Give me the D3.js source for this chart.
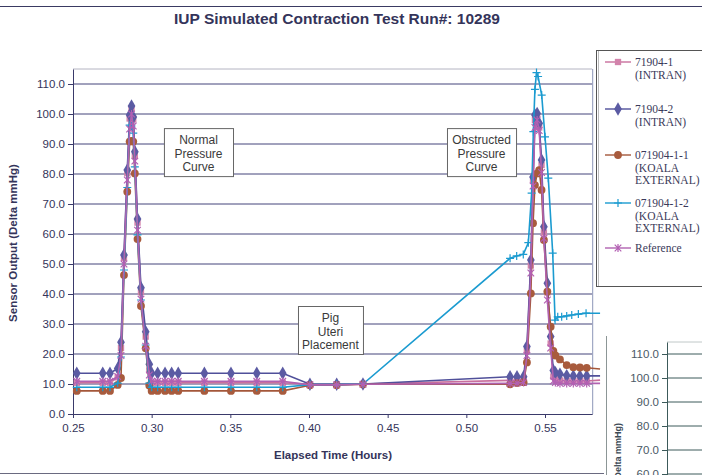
<!DOCTYPE html>
<html>
<head>
<meta charset="utf-8">
<script src="https://cdn.jsdelivr.net/npm/d3@7"></script>
<style>
  body { margin: 0; background: #fff; }
  svg { display: block; }
</style>
</head>
<body>
<div id="chart"></div>
<script>
// values (elapsed hours / delta mmHg)
const seriesNames = ['71904-1 (INTRAN)', '71904-2 (INTRAN)', '071904-1-1 (KOALA EXTERNAL)', '071904-1-2 (KOALA EXTERNAL)', 'Reference'];
const legendLines = [['71904-1', '(INTRAN)'], ['71904-2', '(INTRAN)'], ['071904-1-1', '(KOALA', 'EXTERNAL)'], ['071904-1-2', '(KOALA', 'EXTERNAL)'], ['Reference']];

// first run, shared sample times
const timesA = [0.2524, 0.2689, 0.2735, 0.2784, 0.2805, 0.2824, 0.2845, 0.2860, 0.2872, 0.2883, 0.2893, 0.2910, 0.2932, 0.2962, 0.2985, 0.3000, 0.3038, 0.3085, 0.3127, 0.3169, 0.3335, 0.3504, 0.3668, 0.3833, 0.4006, 0.4176, 0.4343];
// second run
const timesB = [0.5278, 0.5322, 0.5364, 0.5385, 0.5410, 0.5424, 0.5436, 0.5450, 0.5463, 0.5478, 0.5493, 0.5515, 0.5536, 0.5553, 0.5566, 0.5595, 0.5638, 0.5680, 0.5722, 0.5765];
const timesKoala2B = [0.5278, 0.5320, 0.5362, 0.5394, 0.5415, 0.5426, 0.5436, 0.5446, 0.5456, 0.5479, 0.5500, 0.5521, 0.5549, 0.5564, 0.5581, 0.5606, 0.5638, 0.5670, 0.5712, 0.5761];
const timeEnd = 0.585; // lines run on a little past the plot edge

const intran1A = [10.4, 10.4, 10.4, 12.2, 22.0, 52.0, 80.3, 98.5, 101.8, 98.2, 86.0, 63.8, 40.6, 25.8, 14.5, 10.4, 10.4, 10.4, 10.4, 10.4, 10.4, 10.4, 10.4, 10.4, 9.9, 9.9, 10.0];
const intran2A = [13.6, 13.6, 13.6, 15.2, 23.9, 53.0, 81.3, 99.7, 102.7, 99.0, 87.4, 65.0, 42.1, 27.4, 16.6, 13.6, 13.6, 13.6, 13.6, 13.6, 13.6, 13.6, 13.6, 13.6, 9.9, 9.9, 10.0];
const koala1A = [7.7, 7.7, 7.7, 9.7, 12.0, 46.3, 74.1, 90.8, 91.0, 90.8, 80.2, 58.3, 36.0, 21.9, 9.5, 7.7, 7.7, 7.7, 7.7, 7.7, 7.7, 7.7, 7.7, 7.7, 9.6, 9.6, 9.9];
const koala2A = [8.9, 8.9, 8.9, 10.3, 19.0, 48.0, 75.5, 96.3, 96.0, 93.6, 82.4, 59.7, 38.0, 23.0, 10.3, 8.9, 8.9, 8.9, 8.9, 8.9, 8.9, 8.9, 8.9, 8.9, 9.8, 9.8, 10.0];
const referenceA = [10.9, 10.9, 10.9, 12.5, 19.5, 50.0, 78.0, 95.0, 100.0, 96.0, 84.3, 61.3, 38.3, 22.6, 13.0, 10.9, 10.9, 10.9, 10.9, 10.9, 10.9, 10.9, 10.9, 10.9, 9.7, 9.7, 9.9];

const intran1B = [11.2, 11.2, 11.4, 21.0, 49.5, 78.0, 98.0, 99.5, 95.5, 83.0, 60.5, 40.5, 23.5, 12.5, 12.0, 11.2, 11.0, 11.0, 11.0, 11.0];
const intran2B = [12.4, 12.4, 12.4, 22.5, 51.3, 79.0, 99.7, 100.2, 96.9, 84.7, 62.4, 43.6, 25.8, 14.5, 13.8, 13.3, 12.8, 12.7, 12.7, 12.7];
const koala1B = [9.9, 10.3, 10.6, 17.2, 40.2, 63.6, 76.3, 80.2, 81.3, 74.7, 58.0, 40.8, 29.1, 21.0, 19.5, 18.2, 16.3, 15.6, 15.5, 15.4];
const koala2B = [51.9, 52.7, 53.2, 57.1, 73.6, 94.1, 108.2, 113.8, 112.5, 106.3, 92.4, 78.6, 53.6, 31.3, 32.4, 32.4, 32.7, 33.0, 33.3, 33.6];
const referenceB = [10.2, 10.3, 10.5, 19.5, 47.0, 76.0, 95.5, 98.0, 94.5, 80.5, 58.5, 38.0, 22.0, 11.0, 10.5, 10.2, 10.2, 10.2, 10.2, 10.2];

const endValues = [11.3, 12.7, 15.0, 33.6, 10.2];

const yTicks = [0, 10, 20, 30, 40, 50, 60, 70, 80, 90, 100, 110];
const xTicks = [0.25, 0.30, 0.35, 0.40, 0.45, 0.50, 0.55];
const insetTicks = [60, 70, 80, 90, 100, 110];

const notes = [
  { lines: ['Normal', 'Pressure', 'Curve'], t0: 0.3078, t1: 0.3517, v0: 95.3, v1: 79.3 },
  { lines: ['Obstructed', 'Pressure', 'Curve'], t0: 0.4877, t1: 0.5316, v0: 95.3, v1: 79.3 },
  { lines: ['Pig', 'Uteri', 'Placement'], t0: 0.3930, t1: 0.4343, v0: 36.0, v1: 20.0 }
];

const width = 702, height = 475;
const sans = '"Liberation Sans", Arial, sans-serif';
const serif = '"Liberation Serif", "Times New Roman", serif';
const svg = d3.select('#chart').append('svg').attr('width', width).attr('height', height)
  .style('font-family', sans);

const x = d3.scaleLinear().domain([0.25, 0.58]).range([73, 592.2]);
const y = d3.scaleLinear().domain([0, 115]).range([414, 69]);

const ink = '#34345a';

// outer frame lines
svg.append('line').attr('x1', 0).attr('x2', width).attr('y1', 6.5).attr('y2', 6.5).attr('stroke', '#3a3a62');
svg.append('line').attr('x1', 0).attr('x2', 604).attr('y1', 473.5).attr('y2', 473.5).attr('stroke', '#6a6a80');

svg.append('text').attr('x', 337).attr('y', 24).attr('text-anchor', 'middle')
  .attr('font-size', 15.5).attr('font-weight', 'bold').attr('fill', ink)
  .text('IUP Simulated Contraction Test Run#: 10289');

// gridlines
svg.append('g').selectAll('line').data(yTicks.filter(d => d > 0)).enter().append('line')
  .attr('x1', x(0.25)).attr('x2', x(0.58)).attr('y1', d => y(d)).attr('y2', d => y(d))
  .attr('stroke', '#45457a').attr('stroke-width', 1);
svg.append('line').attr('x1', x(0.25)).attr('x2', x(0.58)).attr('y1', y(115)).attr('y2', y(115))
  .attr('stroke', '#b4b4c2');
svg.append('line').attr('x1', x(0.58) + 0.5).attr('x2', x(0.58) + 0.5).attr('y1', y(115)).attr('y2', y(0))
  .attr('stroke', '#8d97b8');

// axes
const yAxis = d3.axisLeft(y).tickValues(yTicks).tickFormat(d3.format('.1f')).tickSize(5).tickSizeOuter(0);
const gy = svg.append('g').attr('transform', `translate(${x(0.25)},0)`).call(yAxis);
const xAxis = d3.axisBottom(x).tickValues(xTicks).tickFormat(d3.format('.2f')).tickSize(4).tickSizeOuter(0);
const gx = svg.append('g').attr('transform', `translate(0,${y(0)})`).call(xAxis);
[gx, gy].forEach(g => {
  g.select('.domain').attr('stroke', '#3a3a6a');
  g.selectAll('.tick line').attr('stroke', '#3a3a6a');
  g.selectAll('.tick text').attr('fill', ink).attr('font-size', 11.5).attr('font-family', sans);
});
gy.selectAll('.tick text').attr('x', -8);
gx.selectAll('.tick text').attr('y', 10);

svg.append('text').attr('transform', `translate(17,${y(57)}) rotate(-90)`).attr('text-anchor', 'middle')
  .attr('font-size', 11.5).attr('font-weight', 'bold').attr('fill', ink)
  .text('Sensor Output (Delta mmHg)');
svg.append('text').attr('x', 333).attr('y', 459).attr('text-anchor', 'middle')
  .attr('font-size', 11.5).attr('font-weight', 'bold').attr('fill', ink)
  .text('Elapsed Time (Hours)');

// annotation boxes
notes.forEach(n => {
  const g = svg.append('g');
  g.append('rect').attr('x', x(n.t0) + 0.5).attr('y', y(n.v0) + 0.5)
    .attr('width', x(n.t1) - x(n.t0)).attr('height', y(n.v1) - y(n.v0))
    .attr('fill', '#fff').attr('stroke', '#666');
  const cx = (x(n.t0) + x(n.t1)) / 2;
  n.lines.forEach((s, i) => {
    g.append('text').attr('x', cx).attr('y', y(n.v0) + 16 + i * 13.6).attr('text-anchor', 'middle')
      .attr('font-size', 12).attr('fill', '#3a3a3a').text(s);
  });
});

// series
const plus = 'M-4,0H4M0,-4V4';
const star = 'M-3.3,-3.3L3.3,3.3M-3.3,3.3L3.3,-3.3M0,-4V4';
const styles = [
  { line: '#c96f9d', fill: '#d283ab', shape: d3.symbol(d3.symbolSquare, 40)() },
  { line: '#50509a', fill: '#5b5ba3', shape: d3.symbol(d3.symbolDiamond, 52)() },
  { line: '#a4573a', fill: '#a85b3d', shape: d3.symbol(d3.symbolCircle, 48)() },
  { line: '#1b9bd0', fill: 'none', stroke: '#1b9bd0', shape: plus },
  { line: '#b062b0', fill: 'none', stroke: '#b35fb3', shape: star }
];

const zip = (ts, vs) => ts.map((t, i) => ({ t, v: vs[i] }));
const seriesData = [
  zip(timesA, intran1A).concat(zip(timesB, intran1B)),
  zip(timesA, intran2A).concat(zip(timesB, intran2B)),
  zip(timesA, koala1A).concat(zip(timesB, koala1B)),
  zip(timesA, koala2A).concat(zip(timesKoala2B, koala2B)),
  zip(timesA, referenceA).concat(zip(timesB, referenceB))
].map((pts, i) => pts.concat([{ t: timeEnd, v: endValues[i] }]));

const line = d3.line().x(d => x(d.t)).y(d => y(d.v));

seriesData.forEach((pts, i) => {
  const st = styles[i];
  svg.append('path').datum(pts).attr('d', line).attr('fill', 'none')
    .attr('stroke', st.line).attr('stroke-width', 1.6);
  svg.append('g').selectAll('path').data(pts.filter(d => d.t <= 0.58)).enter().append('path')
    .attr('transform', d => `translate(${x(d.t)},${y(d.v)})`)
    .attr('d', st.shape)
    .attr('fill', st.fill)
    .attr('stroke', st.stroke || 'none').attr('stroke-width', 1.2);
});

// legend
const lg = svg.append('g');
lg.append('rect').attr('x', 596.5).attr('y', 50.5).attr('width', 130).attr('height', 236)
  .attr('fill', '#fff').attr('stroke', '#555');
lg.append('line').attr('x1', 598.5).attr('x2', 598.5).attr('y1', 51).attr('y2', 286).attr('stroke', '#bbb');
const legendY = [62, 109, 155, 203, 248];
legendLines.forEach((ls, i) => {
  const st = styles[i];
  const ly = legendY[i];
  lg.append('line').attr('x1', 605).attr('x2', 631).attr('y1', ly).attr('y2', ly)
    .attr('stroke', st.line).attr('stroke-width', 1.4);
  lg.append('path').attr('transform', `translate(618,${ly})`).attr('d', st.shape)
    .attr('fill', st.fill).attr('stroke', st.stroke || 'none').attr('stroke-width', 1.2);
  ls.forEach((s, j) => {
    lg.append('text').attr('x', 635).attr('y', ly + 4 + j * 12.7)
      .style('font-family', serif)
      .attr('font-size', 11.5).attr('fill', '#3a3a5a').text(s);
  });
});

// second chart peeking in at the lower right
const yi = d3.scaleLinear().domain([0, 115]).range([618, 342]);
const ig = svg.append('g');
ig.append('line').attr('x1', 606.5).attr('x2', 606.5).attr('y1', 336).attr('y2', height).attr('stroke', '#8c9696');
ig.append('line').attr('x1', 667).attr('x2', width).attr('y1', yi(115)).attr('y2', yi(115)).attr('stroke', '#c0c8c8');
ig.selectAll('.grid').data(insetTicks).enter().append('line')
  .attr('x1', 667).attr('x2', width).attr('y1', d => yi(d)).attr('y2', d => yi(d)).attr('stroke', '#3c5a5a');
const ia = ig.append('g').attr('transform', 'translate(667,0)')
  .call(d3.axisLeft(yi).tickValues(insetTicks).tickFormat(d3.format('.1f')).tickSize(5).tickSizeOuter(0));
ia.select('.domain').attr('stroke', '#3c5a5a');
ia.selectAll('.tick line').attr('stroke', '#3c5a5a');
ia.selectAll('.tick text').attr('x', -8).attr('fill', '#4a5a66').attr('font-size', 11.5).attr('font-family', sans);
ig.append('text').attr('transform', 'translate(621,423) rotate(-90)').attr('text-anchor', 'end')
  .attr('font-size', 9).attr('font-weight', 'bold').attr('fill', '#3c4a55')
  .text('Sensor Output (Delta mmHg)');
</script>
</body>
</html>
